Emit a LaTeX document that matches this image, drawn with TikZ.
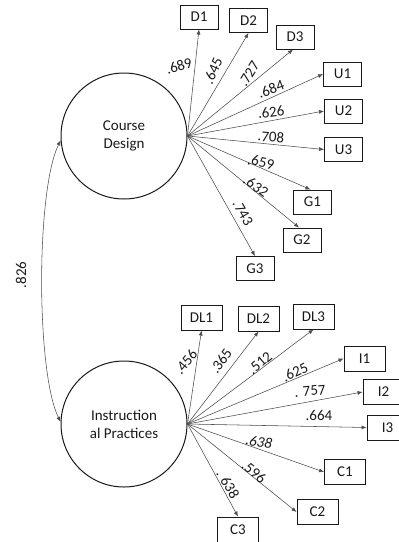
\documentclass[tikz,border=0pt]{standalone}
\usepackage{fontspec}
\setmainfont{Carlito}
\usetikzlibrary{arrows.meta}
\begin{document}
\begin{tikzpicture}[x=1pt,y=-1pt,
 every node/.style={font=\fontsize{15}{18}\selectfont, text=black!90},
 obs/.style={draw=black!90, line width=0.9pt, minimum width=38pt, minimum height=24pt, inner sep=0pt},
 obsw/.style={obs, minimum width=41pt, minimum height=25pt},
 lat/.style={draw=black!90, line width=1pt, circle, minimum size=126pt, inner sep=0pt, align=center},
 load/.style={draw=black!70, line width=0.55pt, -{Latex[length=5pt,width=4pt]}},
 coef/.style={inner sep=0pt}]
\useasboundingbox (0,0) rectangle (399,542);
% latent variables
\node[lat] (cd) at (124,136) {Course\\Design};
\node[lat] (ip) at (124,424) {Instruction\\al Practices};
% indicators, upper
\node[obs] (d1) at (199,17) {D1};
\node[obs] (d2) at (248.5,20.5) {D2};
\node[obs] (d3) at (295,37) {D3};
\node[obs] (u1) at (342.5,74) {U1};
\node[obs] (u2) at (343.5,111) {U2};
\node[obs] (u3) at (343.5,149.5) {U3};
\node[obs] (g1) at (312.5,202) {G1};
\node[obs] (g2) at (302,240) {G2};
\node[obs] (g3) at (255,268.5) {G3};
% indicators, lower
\node[obsw] (dl1) at (201.5,317.5) {DL1};
\node[obsw] (dl2) at (258.5,318.5) {DL2};
\node[obsw] (dl3) at (313.5,316.5) {DL3};
\node[obsw] (i1) at (364.5,358.5) {I1};
\node[obsw] (i2) at (383.5,392) {I2};
\node[obsw] (i3) at (387.5,427.5) {I3};
\node[obsw] (c1) at (345,472) {C1};
\node[obsw] (c2) at (317.5,512) {C2};
\node[obsw] (c3) at (238,529.5) {C3};
% loadings, upper
\draw[load] (cd.east) -- (d1.south);
\draw[load] (cd.east) -- (d2.south);
\draw[load] (cd.east) -- ([xshift=-2pt]d3.south);
\draw[load] (cd.east) -- (u1.west);
\draw[load] (cd.east) -- (u2.west);
\draw[load] (cd.east) -- (u3.west);
\draw[load] (cd.east) -- ([xshift=-2pt]g1.north);
\draw[load] (cd.east) -- ([xshift=-3pt]g2.north);
\draw[load] (cd.east) -- (g3.north);
% loadings, lower
\draw[load] (ip.east) -- (dl1.south);
\draw[load] (ip.east) -- (dl2.south);
\draw[load] (ip.east) -- (dl3.south);
\draw[load] (ip.east) -- (i1.west);
\draw[load] (ip.east) -- (i2.west);
\draw[load] (ip.east) -- (i3.west);
\draw[load] (ip.east) -- (c1.west);
\draw[load] (ip.east) -- (c2.west);
\draw[load] (ip.east) -- (c3.north);
% covariance
\draw[draw=black!70, line width=0.55pt, {Latex[length=5pt,width=4pt]}-{Latex[length=5pt,width=4pt]}]
  (cd.184) .. controls (36,190) and (36,372) .. (ip.178);
% coefficients
\node[coef, rotate=18] (l1) at (179,66) {.689};
\node[coef, rotate=66] (l2) at (213,71) {.645};
\node[coef, rotate=58] (l3) at (249,74) {.727};
\node[coef, rotate=20] (l4) at (271,89) {.684};
\node[coef, rotate=8] (l5) at (271,112) {.626};
\node[coef, rotate=-5] (l6) at (271,137) {.708};
\node[coef, rotate=-12] (l7) at (261,162) {.659};
\node[coef, rotate=-35] (l8) at (256,186) {.632};
\node[coef, rotate=-60] (l9) at (243,213) {.743};
\node[coef, rotate=50] (m1) at (186,362) {.456};
\node[coef, rotate=55] (m2) at (221,361) {.365};
\node[coef, rotate=40] (m3) at (260,363) {.512};
\node[coef, rotate=25] (m4) at (295,372) {.625};
\node[coef, rotate=5] (m5) at (310,391) {. 757};
\node[coef] (m6) at (319,415) {.664};
\node[coef, rotate=-10] (m7) at (259,442) {\itshape .638};
\node[coef, rotate=-40] (m8) at (254,472) {.596};
\node[coef, rotate=-60] (m9) at (228,484) {. 638};
\node[coef, rotate=90] (cov) at (21,275) {.826};
\end{tikzpicture}
\end{document}
